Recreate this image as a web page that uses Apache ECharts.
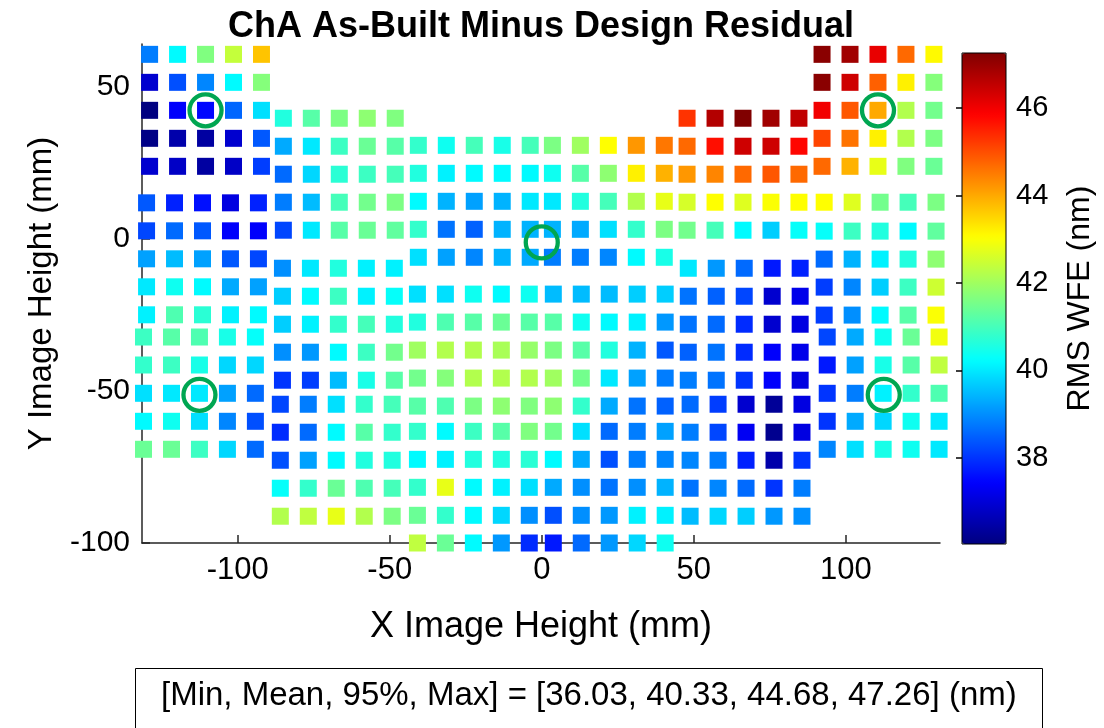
<!DOCTYPE html>
<html><head><meta charset="utf-8">
<script src="https://cdn.jsdelivr.net/npm/echarts@6/dist/echarts.min.js"></script>
<style>html,body{margin:0;padding:0;background:#fff}#c{width:1104px;height:728px}</style>
</head><body><div id="c"></div>
<script>
// ---- data: field points (mm) and RMS WFE (nm), rows listed top -> bottom ----
const G_x = [-129.0, -119.8, -110.6, -101.4, -92.2];
const G_y = [60.6, 51.4, 42.2, 33.0, 23.8];
const G_rms = [[38.8,40.2,41.65,42.4,43.7],[36.9,38.3,38.9,40.2,41.7],[36.03,37.4,37.5,38.55,39.9],[36.1,36.5,36.4,36.9,38.4],[36.9,36.8,36.4,36.8,38.1]];
const A_x = [92.2, 101.4, 110.6, 119.8, 129.0];
const A_y = [60.6, 51.4, 42.2, 33.0, 23.8];
const A_rms = [[47.15,46.9,46.1,44.7,43.1],[47.15,46.4,44.8,43.2,41.7],[46.0,44.9,44.0,42.2,41.5],[45.1,44.6,43.2,42.2,41.6],[44.7,43.9,42.8,41.65,41.4]];
const H_x = [-130.0, -120.8, -111.6, -102.4, -93.2];
const H_y = [11.8, 2.6, -6.6, -15.8, -25.0];
const H_rms = [[38.4,37.8,37.6,37.1,37.8],[38.2,38.6,38.4,37.4,37.4],[39.2,39.5,39.2,38.4,38.2],[40.0,40.4,40.2,39.3,39.2],[40.1,41.1,40.7,40.1,40.2]];
const B_x = [92.9, 102.1, 111.3, 120.5, 129.7];
const B_y = [12.0, 2.5, -6.7, -15.9, -25.1];
const B_rms = [[43.05,42.7,41.5,41.0,41.6],[40.3,40.9,40.6,40.2,41.3],[38.6,39.4,40.1,40.6,41.8],[38.1,38.9,39.7,40.9,42.5],[38.1,39.0,40.2,41.2,43.0]];
const I_x = [-131.0, -121.8, -112.6, -103.4, -94.2];
const I_y = [-32.3, -41.5, -50.8, -60.0, -69.2];
const I_rms = [[40.9,41.2,41.1,40.5,40.3],[40.8,40.9,40.5,39.8,39.8],[39.9,40.0,40.0,39.2,38.6],[40.2,40.4,39.9,38.9,38.3],[41.4,41.4,40.9,39.8,38.6]];
const C_x = [93.9, 103.1, 112.3, 121.5, 130.7];
const C_y = [-32.3, -41.5, -50.8, -60.0, -69.2];
const C_rms = [[38.2,39.3,40.4,41.4,42.9],[37.7,39.2,40.5,41.2,42.35],[38.0,38.8,40.1,40.8,41.1],[38.0,39.3,39.8,40.4,40.0],[38.9,39.9,40.5,40.4,40.0]];
const J_x = [-85.0, -75.8, -66.6, -57.4, -48.2];
const J_y = [39.6, 30.4, 21.2, 12.0, 2.8];
const J_rms = [[40.6,41.2,41.6,41.8,41.65],[39.3,40.0,40.9,41.4,41.2],[38.6,39.8,40.7,40.9,41.0],[38.8,39.5,41.0,41.5,41.6],[38.2,40.0,41.2,41.4,41.3]];
const D_x = [47.8, 57.0, 66.2, 75.4, 84.6];
const D_y = [39.6, 30.4, 21.2, 12.0, 2.8];
const D_rms = [[45.3,46.7,47.26,46.9,46.55],[44.7,45.7,46.4,46.4,45.8],[44.2,44.4,44.7,44.9,44.7],[42.6,43.05,42.7,43.0,43.05],[41.5,41.0,40.2,39.7,40.3]];
const K_x = [-85.3, -76.1, -66.9, -57.7, -48.5];
const K_y = [-9.7, -18.9, -28.1, -37.3, -46.5];
const K_rms = [[39.0,40.0,40.6,40.1,40.1],[39.7,40.2,40.9,40.1,40.3],[39.7,40.1,40.8,41.0,40.6],[39.0,39.1,40.2,40.9,41.5],[38.0,38.1,39.5,40.5,41.2]];
const E_x = [48.2, 57.4, 66.6, 75.8, 85.0];
const E_y = [-9.7, -18.9, -28.1, -37.3, -46.5];
const E_rms = [[40.0,39.1,38.6,37.7,37.8],[38.7,38.5,38.2,36.9,37.2],[38.7,38.6,37.9,36.9,37.1],[38.5,38.7,37.9,37.4,37.2],[38.8,38.7,38.0,37.4,37.1]];
const L_x = [-86.0, -76.8, -67.6, -58.4, -49.2];
const L_y = [-54.4, -63.6, -72.8, -82.0, -91.2];
const L_rms = [[38.2,38.8,39.9,40.8,41.0],[37.9,38.6,40.2,41.2,40.8],[38.3,39.2,40.2,40.6,40.6],[40.3,40.8,41.4,41.1,41.0],[42.2,42.35,42.8,42.2,41.6]];
const F_x = [48.8, 58.0, 67.2, 76.4, 85.6];
const F_y = [-54.4, -63.6, -72.8, -82.0, -91.2];
const F_rms = [[38.6,38.1,36.9,36.3,37.1],[38.8,38.2,37.3,36.2,37.1],[38.9,38.8,37.8,36.5,38.0],[38.7,38.9,38.6,38.0,38.8],[39.5,39.8,39.7,39.1,39.0]];
const M1_x = [-40.6, -31.4, -22.2, -13.0, -3.8];
const M1_y = [30.7, 21.5, 12.3, 3.1, -6.1];
const M1_rms = [[40.8,40.4,41.0,40.5,41.0],[40.6,40.1,40.2,40.2,40.2],[40.2,39.4,39.2,39.4,40.0],[40.8,38.7,38.5,39.4,39.4],[39.9,39.2,38.9,39.4,39.3]];
const M2_x = [3.5, 12.7, 21.9, 31.1, 40.3];
const M2_y = [30.7, 21.5, 12.3, 3.1, -6.1];
const M2_rms = [[41.6,42.0,43.05,44.2,44.55],[40.4,41.2,41.8,43.2,43.9],[40.0,40.6,41.0,42.2,42.8],[39.4,39.3,39.9,40.8,41.6],[38.8,38.8,38.9,40.2,40.5]];
const M3_x = [-40.9, -31.7, -22.5, -13.3, -4.1];
const M3_y = [-18.2, -27.4, -36.6, -45.8, -55.0];
const M3_rms = [[39.9,39.9,40.4,40.2,40.4],[40.6,41.1,41.2,41.4,41.2],[42.0,42.2,42.2,42.1,41.9],[41.5,41.7,42.2,42.2,42.2],[41.2,41.1,41.6,41.8,41.65]];
const M4_x = [3.8, 13.0, 22.2, 31.4, 40.6];
const M4_y = [-18.2, -27.4, -36.6, -45.8, -55.0];
const M4_rms = [[39.5,39.5,39.5,39.7,39.7],[41.2,40.4,40.2,40.1,39.1],[41.6,41.2,40.6,39.4,38.4],[42.0,41.5,40.0,39.2,38.8],[41.8,40.8,39.3,38.7,38.5]];
const M5_x = [-40.9, -31.7, -22.5, -13.3, -4.1];
const M5_y = [-63.3, -72.5, -81.7, -90.9, -100.0];
const M5_rms = [[40.8,40.2,40.9,41.2,41.65],[40.2,40.1,40.6,40.6,40.7],[40.8,42.8,40.2,40.1,39.9],[41.4,40.8,40.2,39.8,39.0],[42.35,41.4,40.2,39.1,37.9]];
const M6_x = [3.8, 13.0, 22.2, 31.4, 40.6];
const M6_y = [-63.3, -72.5, -81.7, -90.9, -100.0];
const M6_rms = [[41.5,39.9,38.6,38.8,39.2],[40.2,39.3,38.3,38.8,38.9],[39.3,39.0,38.7,39.0,39.4],[38.3,39.0,39.1,40.1,40.1],[37.7,38.6,39.1,39.8,40.4]];

// highlighted field points
const markedX = [-110.6, 110.6, 0, -112.6, 112.5];
const markedY = [42.2, 42.2, -1.2, -51.3, -51.3];

const xTicks = [-100, -50, 0, 50, 100];
const yTicks = [-100, -50, 0, 50];
const cbTicks = [38, 40, 42, 44, 46];
const stats = [36.03, 40.33, 44.68, 47.26];
const rmsMin = 36.03, rmsMax = 47.26;

// ---- build ----
const blocks = [
  [G_x,G_y,G_rms],[A_x,A_y,A_rms],[H_x,H_y,H_rms],[B_x,B_y,B_rms],[I_x,I_y,I_rms],[C_x,C_y,C_rms],
  [J_x,J_y,J_rms],[D_x,D_y,D_rms],[K_x,K_y,K_rms],[E_x,E_y,E_rms],[L_x,L_y,L_rms],[F_x,F_y,F_rms],
  [M1_x,M1_y,M1_rms],[M2_x,M2_y,M2_rms],[M3_x,M3_y,M3_rms],[M4_x,M4_y,M4_rms],[M5_x,M5_y,M5_rms],[M6_x,M6_y,M6_rms]
];
const pts = [];
blocks.forEach(([xs, ys, vs]) => ys.forEach((y, r) => xs.forEach((x, c) => pts.push([x, y, vs[r][c]]))));
const circles = markedX.map((x, i) => [x, markedY[i]]);

const FONT = "'Liberation Sans', Arial, Helvetica, sans-serif";
const jet = ['#000080','#0000FF','#0080FF','#00FFFF','#80FF80','#FFFF00','#FF8000','#FF0000','#800000'];
const axisCol = '#262626';
const statText = '[Min, Mean, 95%, Max] = [' + stats.map(v => v.toFixed(2)).join(', ') + '] (nm)';

const chart = echarts.init(document.getElementById('c'), null, {renderer: 'canvas'});
chart.setOption({
  animation: false,
  backgroundColor: '#ffffff',
  title: [
    {text: 'ChA As-Built Minus Design Residual', left: 536, top: 4, textAlign: 'center',
     textStyle: {fontFamily: FONT, fontSize: 36, fontWeight: 'bold', color: '#000'}},
    {text: statText, left: 135, top: 668, borderWidth: 1, borderColor: '#000', padding: [11, 26, 40, 26],
     textStyle: {fontFamily: FONT, fontSize: 33, fontWeight: 'normal', color: '#000'}}
  ],
  grid: [
    {left: 142, top: 44, width: 798, height: 499},
    {left: 962, top: 53, width: 44, height: 491, show: true, z: 10, backgroundColor: 'transparent', borderColor: '#000', borderWidth: 1}
  ],
  xAxis: [
    {gridIndex: 0, type: 'value', min: -131.5, max: 131,
     name: 'X Image Height (mm)', nameLocation: 'middle', nameGap: 66,
     nameTextStyle: {fontFamily: FONT, fontSize: 36, color: '#000'},
     axisLine: {onZero: false, lineStyle: {color: axisCol, width: 1.5}},
     axisTick: {inside: true, length: 8, customValues: xTicks, lineStyle: {color: axisCol, width: 1.5}},
     axisLabel: {customValues: xTicks, fontFamily: FONT, fontSize: 31, color: '#000', margin: 12},
     splitLine: {show: false}},
    {gridIndex: 1, type: 'value', min: 0, max: 1, show: false}
  ],
  yAxis: [
    {gridIndex: 0, type: 'value', min: -100, max: 64,
     name: 'Y Image Height (mm)', nameLocation: 'middle', nameGap: 84, nameRotate: 90,
     nameTextStyle: {fontFamily: FONT, fontSize: 33, color: '#000'},
     axisLine: {onZero: false, lineStyle: {color: axisCol, width: 1.5}},
     axisTick: {inside: true, length: 8, customValues: yTicks, lineStyle: {color: axisCol, width: 1.5}},
     axisLabel: {customValues: yTicks, fontFamily: FONT, fontSize: 30, color: '#000', margin: 12},
     splitLine: {show: false}},
    {gridIndex: 1, type: 'value', min: rmsMin, max: rmsMax, position: 'right',
     name: 'RMS WFE (nm)', nameLocation: 'middle', nameGap: 58, nameRotate: 90,
     nameTextStyle: {fontFamily: FONT, fontSize: 32, color: '#000'},
     axisLine: {show: false},
     axisTick: {inside: true, length: 6, customValues: cbTicks, lineStyle: {color: '#000', width: 1.5}},
     axisLabel: {customValues: cbTicks, fontFamily: FONT, fontSize: 29, color: '#000', margin: 10},
     splitLine: {show: false}}
  ],
  visualMap: {
    type: 'continuous', seriesIndex: 0, dimension: 2, min: rmsMin, max: rmsMax,
    orient: 'vertical', left: 962, top: 53, itemWidth: 44, itemHeight: 491, padding: 0,
    calculable: false, hoverLink: false, inRange: {color: jet, opacity: 1}
  },
  series: [
    {type: 'scatter', xAxisIndex: 0, yAxisIndex: 0, symbol: 'rect', symbolSize: 17, data: pts, clip: false, silent: true,
     itemStyle: {opacity: 1}},
    {type: 'scatter', xAxisIndex: 0, yAxisIndex: 0, symbol: 'circle', symbolSize: 32, data: circles, clip: false, silent: true, z: 5,
     itemStyle: {color: 'rgba(0,0,0,0)', borderColor: '#00A651', borderWidth: 4.3, opacity: 1}}
  ]
});
</script></body></html>
